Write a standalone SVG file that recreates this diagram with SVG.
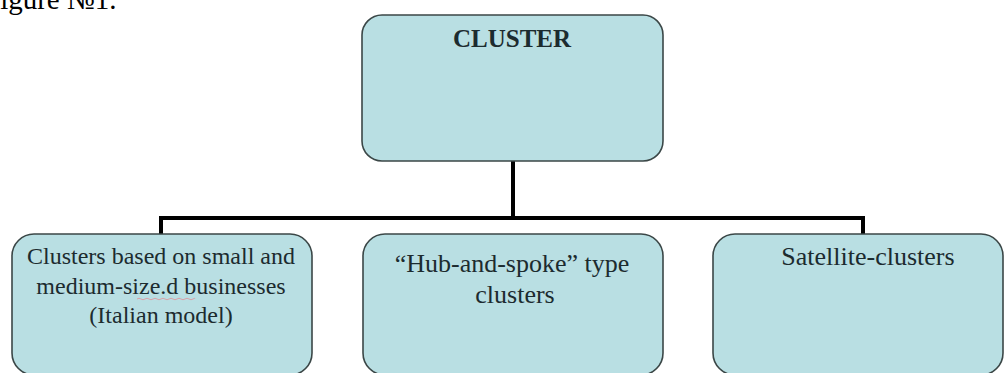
<svg xmlns="http://www.w3.org/2000/svg" width="1005" height="373" viewBox="0 0 1005 373">
<style>
.box{fill:#b9dfe3;stroke:#3b4747;stroke-width:1.6}
.t{font-family:"Liberation Serif","Times New Roman",serif;font-size:24px;fill:#1c2b2f;text-anchor:middle}
.h{font-weight:bold;font-size:25px}
.m{font-size:26px}
.c{fill:none;stroke:#000;stroke-width:4;stroke-linejoin:miter}
</style>
<rect width="1005" height="373" fill="#fff"/>
<text x="-16" y="9" font-family="Liberation Serif, serif" font-size="29" fill="#000">Figure №1.</text>
<g id="connectors">
<path class="c" d="M513 161 V218 M161 234 V218 H863 V234"/>
</g>
<g id="cluster">
<rect class="box" x="362" y="15" width="301" height="146" rx="20"/>
<text class="t h" x="512" y="47">CLUSTER</text>
</g>
<g id="italian">
<rect class="box" x="12" y="234" width="300" height="141" rx="22"/>
<text class="t" x="161" y="264">Clusters based on small and</text>
<text class="t" x="161" y="294">medium-size.d businesses</text>
<path d="M137 299 q2 -1.5 4 0 t4 0 t4 0 t4 0 t4 0 t4 0 t4 0 t4 0 t4 0 t4 0 t4 0 t4 0 t4 0 t4 0 t2 0" fill="none" stroke="#d9a0a8" stroke-width="1"/>
<text class="t" x="161" y="323">(Italian model)</text>
</g>
<g id="hub">
<rect class="box" x="363" y="234" width="300" height="141" rx="22"/>
<text class="t m" x="512" y="272">“Hub-and-spoke” type</text>
<text class="t m" x="515" y="303">clusters</text>
</g>
<g id="satellite">
<rect class="box" x="713" y="234" width="290" height="141" rx="22"/>
<text class="t m" x="868" y="265">Satellite-clusters</text>
</g>
</svg>
